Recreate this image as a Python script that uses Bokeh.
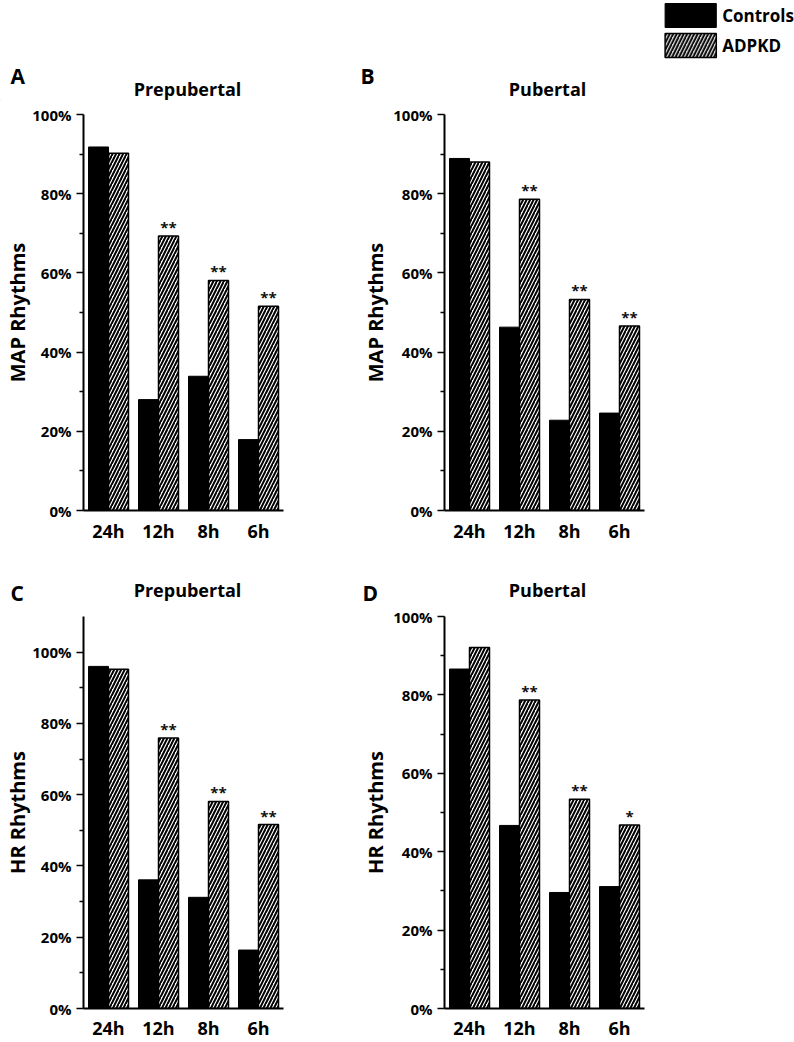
from bokeh.plotting import figure
from bokeh.models import (ColumnDataSource, FactorRange, Range1d, FixedTicker,
                          PrintfTickFormatter, Label, Legend, LegendItem)
from bokeh.transform import dodge
from bokeh.layouts import column, row
from bokeh.embed import file_html
from bokeh.resources import INLINE
from bokeh.core.properties import value

# ---------------- data ----------------
timepoints = ["24h", "12h", "8h", "6h"]
group_names = ["Controls", "ADPKD"]
panel_letters = ["A", "B", "C", "D"]
panel_titles = ["Prepubertal", "Pubertal", "Prepubertal", "Pubertal"]
panel_ylabels = ["MAP Rhythms", "MAP Rhythms", "HR Rhythms", "HR Rhythms"]

map_prepubertal_controls = [91.8, 28.0, 33.9, 17.9]
map_prepubertal_adpkd = [90.2, 69.3, 58.1, 51.6]
map_prepubertal_sig = ["", "**", "**", "**"]

map_pubertal_controls = [88.9, 46.3, 22.8, 24.6]
map_pubertal_adpkd = [88.0, 78.6, 53.3, 46.6]
map_pubertal_sig = ["", "**", "**", "**"]

hr_prepubertal_controls = [96.0, 36.1, 31.2, 16.4]
hr_prepubertal_adpkd = [95.2, 75.9, 58.1, 51.6]
hr_prepubertal_sig = ["", "**", "**", "**"]

hr_pubertal_controls = [86.6, 46.7, 29.6, 31.1]
hr_pubertal_adpkd = [92.1, 78.7, 53.4, 46.8]
hr_pubertal_sig = ["", "**", "**", "*"]

FONT = "Open Sans"
HATCH = dict(hatch_pattern="/", hatch_color="black", hatch_scale=7, hatch_weight=2)


def make_panel(ylabel, controls, adpkd, sig, y_max, major, minor,
               width, height, bl, br, bt, bb, label_standoff, x_standoff):
    src = ColumnDataSource(dict(tp=timepoints, controls=controls, adpkd=adpkd, sig=sig))
    p = figure(x_range=FactorRange(factors=timepoints, range_padding=0),
               y_range=Range1d(0, y_max), width=width, height=height,
               output_backend="svg", toolbar_location=None,
               min_border_left=bl, min_border_right=br,
               min_border_top=bt, min_border_bottom=bb)
    p.vbar(x=dodge("tp", -0.2, range=p.x_range), top="controls", width=0.4,
           source=src, fill_color="black", line_color="black", line_width=1)
    p.vbar(x=dodge("tp", 0.2, range=p.x_range), top="adpkd", width=0.4,
           source=src, fill_color="white", line_color="black", line_width=1.5, **HATCH)
    p.text(x=dodge("tp", 0.2, range=p.x_range), y="adpkd", text="sig", source=src,
           text_align="center", text_baseline="bottom", y_offset=1,
           text_font=value(FONT), text_font_size="15px", text_font_style="bold",
           text_color="#111111")

    p.xgrid.visible = False
    p.ygrid.visible = False
    p.outline_line_color = None
    p.background_fill_color = "white"
    p.border_fill_color = "white"

    ax = p.xaxis[0]
    ax.axis_line_width = 2
    ax.axis_line_color = "black"
    ax.major_tick_out = 0
    ax.major_tick_in = 0
    ax.minor_tick_out = 0
    ax.major_label_standoff = x_standoff
    ax.major_label_text_font = FONT
    ax.major_label_text_font_style = "bold"
    ax.major_label_text_font_size = "18px"
    ax.major_label_text_color = "black"

    ay = p.yaxis[0]
    ay.ticker = FixedTicker(ticks=major, minor_ticks=minor)
    ay.formatter = PrintfTickFormatter(format="%d%%")
    ay.axis_line_width = 2
    ay.axis_line_color = "black"
    ay.major_tick_out = 7
    ay.major_tick_in = 0
    ay.major_tick_line_width = 1.5
    ay.minor_tick_out = 4
    ay.minor_tick_in = 0
    ay.minor_tick_line_width = 1.5
    ay.major_label_standoff = 5
    ay.major_label_text_font = FONT
    ay.major_label_text_font_style = "bold"
    ay.major_label_text_font_size = "15px"
    ay.major_label_text_color = "black"
    ay.axis_label = ylabel
    ay.axis_label_standoff = label_standoff
    ay.axis_label_text_font = FONT
    ay.axis_label_text_font_style = "bold"
    ay.axis_label_text_font_size = "20px"
    ay.axis_label_text_color = "black"
    return p


def header(width, y_top, y_bottom):
    h = figure(width=width, height=y_bottom - y_top,
               x_range=Range1d(0, width), y_range=Range1d(y_bottom, y_top),
               output_backend="svg", toolbar_location=None, min_border=0,
               x_axis_location=None, y_axis_location=None)
    h.xgrid.visible = False
    h.ygrid.visible = False
    h.outline_line_color = None
    return h


def add_text(h, text, x, y, size, align):
    h.add_layout(Label(x=x, y=y, text=text, text_font=FONT, text_font_style="bold",
                       text_font_size=size, text_baseline="middle",
                       text_align=align, text_color="black"))


ticks_100 = [0, 20, 40, 60, 80, 100]
minor_100 = [10, 30, 50, 70, 90]

pA = make_panel(panel_ylabels[0], map_prepubertal_controls, map_prepubertal_adpkd,
                map_prepubertal_sig, 100, ticks_100, minor_100,
                353, 447, 83, 70, 14, 37, -2, 8)
pB = make_panel(panel_ylabels[1], map_pubertal_controls, map_pubertal_adpkd,
                map_pubertal_sig, 100, ticks_100, minor_100,
                441, 447, 91, 150, 14, 37, 1, 8)
pC = make_panel(panel_ylabels[2], hr_prepubertal_controls, hr_prepubertal_adpkd,
                hr_prepubertal_sig, 110, ticks_100, minor_100,
                353, 437, 83, 70, 11, 32, -2, 7)
pD = make_panel(panel_ylabels[3], hr_pubertal_controls, hr_pubertal_adpkd,
                hr_pubertal_sig, 100, ticks_100, minor_100,
                441, 437, 91, 150, 11, 32, 1, 7)

# top header: legend, panel letters A/B and titles
top = header(794, 0, 100)
proxy = ColumnDataSource(dict(x=[-50], bottom=[300], top=[400]))
r_ctrl = top.vbar(x="x", bottom="bottom", top="top", width=1, source=proxy,
                  fill_color="black", line_color="black", line_width=1)
r_adpkd = top.vbar(x="x", bottom="bottom", top="top", width=1, source=proxy,
                   fill_color="white", line_color="black", line_width=1.5, **HATCH)
legend = Legend(items=[LegendItem(label=group_names[0], renderers=[r_ctrl]),
                       LegendItem(label=group_names[1], renderers=[r_adpkd])],
                location="top_right", orientation="vertical",
                glyph_width=64, glyph_height=30, label_height=30,
                label_standoff=0, spacing=0, padding=0, margin=0,
                border_line_alpha=0, background_fill_alpha=0,
                label_text_font=FONT, label_text_font_style="bold",
                label_text_font_size="17px", label_text_color="black")
top.add_layout(legend)
add_text(top, panel_letters[0], 10, 75, "21px", "left")
add_text(top, panel_letters[1], 360, 75, "21px", "left")
add_text(top, panel_titles[0], 187, 88, "18px", "center")
add_text(top, panel_titles[1], 547, 88, "18px", "center")

# middle header: panel letters C/D and titles
mid = header(794, 547, 605)
add_text(mid, panel_letters[2], 10, 592, "21px", "left")
add_text(mid, panel_letters[3], 362, 592, "21px", "left")
add_text(mid, panel_titles[2], 187, 589, "18px", "center")
add_text(mid, panel_titles[3], 547, 589, "18px", "center")

layout = column(top, row(pA, pB), mid, row(pC, pD))

with open("out.html", "w") as f:
    f.write(file_html(layout, INLINE))
